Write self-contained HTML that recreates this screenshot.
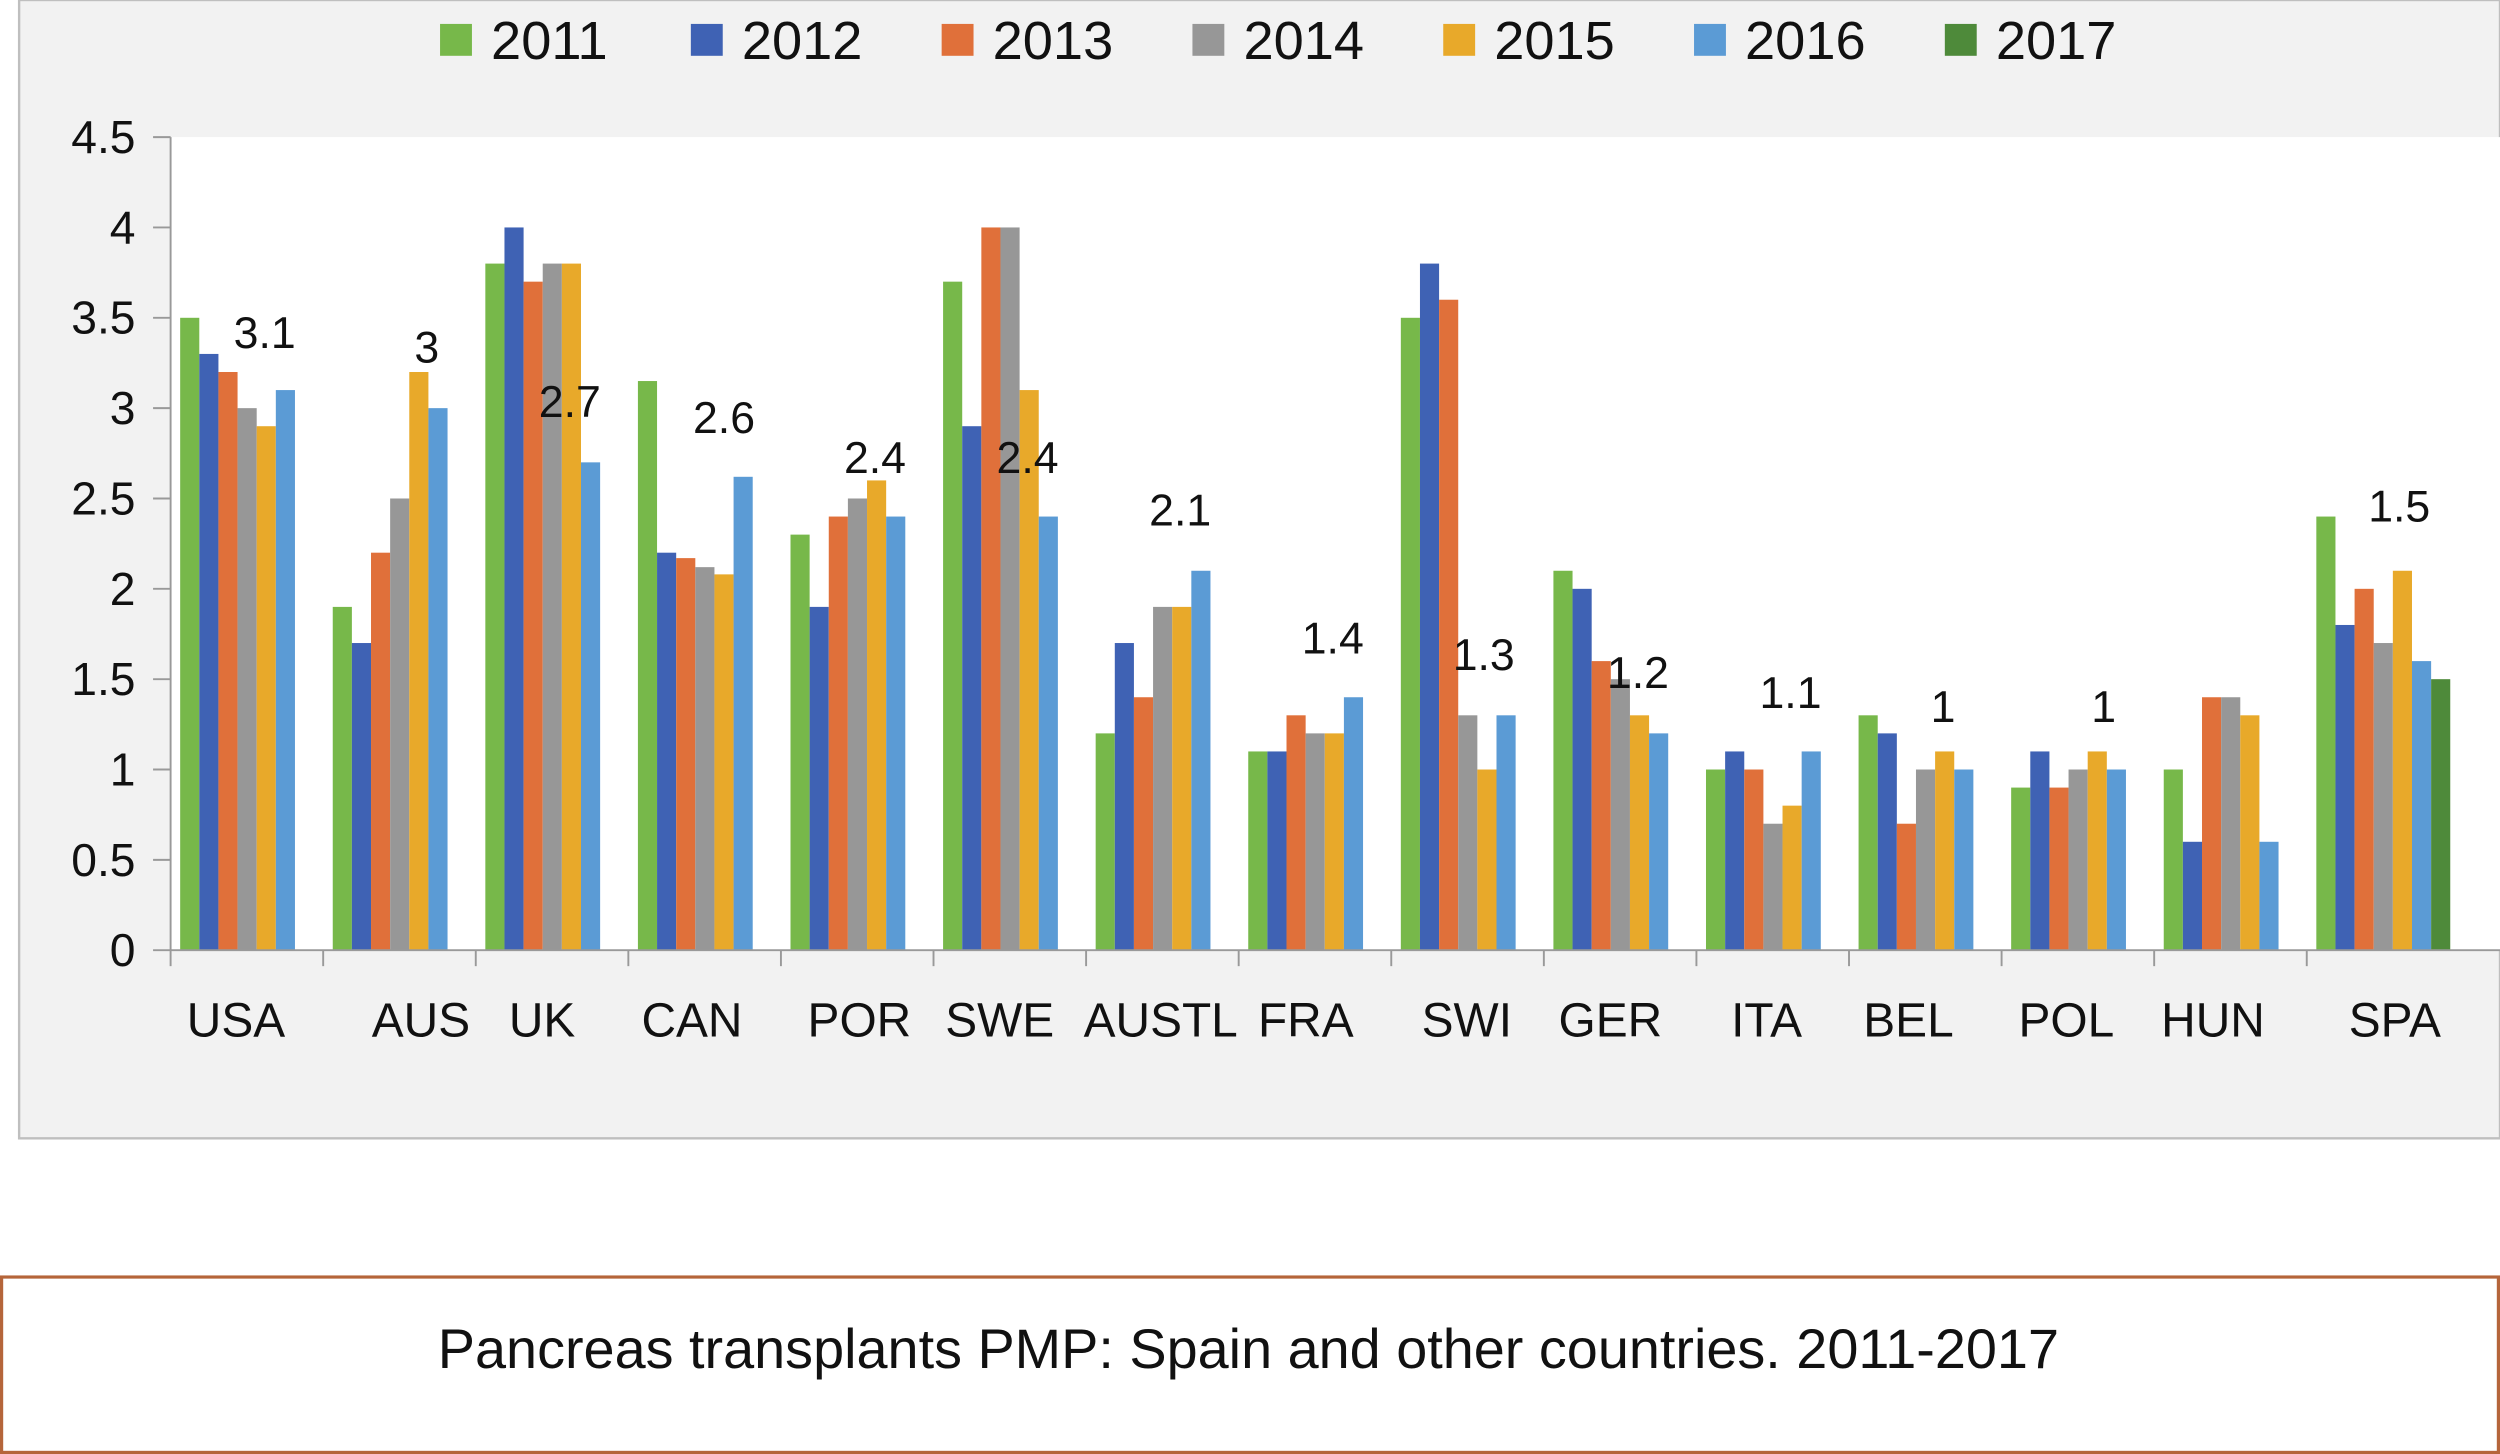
<!DOCTYPE html>
<html><head><meta charset="utf-8"><style>
html,body{margin:0;padding:0;background:#fff;}
svg{display:block;font-family:"Liberation Sans",Arial,sans-serif;}
</style></head><body>
<svg id="chart" width="2500" height="1454" viewBox="0 0 1568 912" preserveAspectRatio="none">
<rect x="12" y="0" width="1556" height="714" fill="#f2f2f2" stroke="#bfbfbf" stroke-width="1.5"/>
<rect x="107" y="86" width="1461" height="510" fill="#ffffff"/>
<g id="legend"></g>
<g id="yaxis"></g>
<g id="bars"></g>
<g id="xaxis"></g>
<g id="labels"></g>
<rect x="1" y="801" width="1566" height="110" fill="#fff" stroke="#b5653a" stroke-width="2"/>
<text x="783" y="858" font-size="35" text-anchor="middle" fill="#111">Pancreas transplants PMP: Spain and other countries. 2011-2017</text>
</svg>
<script>
const categories=["USA","AUS","UK","CAN","POR","SWE","AUSTL","FRA","SWI","GER","ITA","BEL","POL","HUN","SPA"];
const years=["2011","2012","2013","2014","2015","2016","2017"];
const colors=["#77b84a","#3f62b4","#e0703a","#979797","#e8a92a","#5b9bd5","#4e8a3a"];
const s2011=[3.5,1.9,3.8,3.15,2.3,3.7,1.2,1.1,3.5,2.1,1.0,1.3,0.9,1.0,2.4];
const s2012=[3.3,1.7,4.0,2.2,1.9,2.9,1.7,1.1,3.8,2.0,1.1,1.2,1.1,0.6,1.8];
const s2013=[3.2,2.2,3.7,2.17,2.4,4.0,1.4,1.3,3.6,1.6,1.0,0.7,0.9,1.4,2.0];
const s2014=[3.0,2.5,3.8,2.12,2.5,4.0,1.9,1.2,1.3,1.5,0.7,1.0,1.0,1.4,1.7];
const s2015=[2.9,3.2,3.8,2.08,2.6,3.1,1.9,1.2,1.0,1.3,0.8,1.1,1.1,1.3,2.1];
const s2016=[3.1,3.0,2.7,2.62,2.4,2.4,2.1,1.4,1.3,1.2,1.1,1.0,1.0,0.6,1.6];
const s2017=[null,null,null,null,null,null,null,null,null,null,null,null,null,null,1.5];
const labelText=["3.1","3","2.7","2.6","2.4","2.4","2.1","1.4","1.3","1.2","1.1","1","1",null,"1.5"];
const labelValue=[3.42,3.34,3.04,2.95,2.73,2.73,2.44,1.73,1.64,1.54,1.43,1.35,1.35,null,2.46];
const yTicks=[0,0.5,1,1.5,2,2.5,3,3.5,4,4.5];
const series=[s2011,s2012,s2013,s2014,s2015,s2016,s2017];
const NS="http://www.w3.org/2000/svg";
const x0=107,catW=95.7,barW=12,y0=596,yTop=86,yMax=4.5;
const labelOffsetX=[59,65,59,60,59,59,59,59,58,59,59,59,64,59,58];
const catLabelX=[148,264,340,434,539,627,728,819,920,1010,1108,1197,1296,1388,1502];
const y=v=>y0-(v/yMax)*(y0-yTop);
const cx=i=>x0+i*catW;
function mk(tag,attrs,parent){const e=document.createElementNS(NS,tag);for(const k in attrs)e.setAttribute(k,attrs[k]);parent.appendChild(e);return e;}
const gL=document.getElementById('legend'),gY=document.getElementById('yaxis'),gB=document.getElementById('bars'),gX=document.getElementById('xaxis'),gT=document.getElementById('labels');
years.forEach((yr,i)=>{
  const lx=276+i*157.3;
  const r=mk('rect',{x:lx,y:15,width:20,height:20,fill:colors[i]},gL);
  
  
  const t=mk('text',{x:lx+32,y:37,'font-size':34,fill:'#111'},gL);t.textContent=yr;
  
  
});
mk('line',{x1:x0,y1:yTop,x2:x0,y2:y0,stroke:'#999','stroke-width':1.2},gY);
yTicks.forEach(v=>{
  mk('line',{x1:96,y1:y(v),x2:x0,y2:y(v),stroke:'#999','stroke-width':1.2},gY);
  const t=mk('text',{x:85,y:y(v)+10,'font-size':29,'text-anchor':'end',fill:'#111'},gY);t.textContent=String(v);
  
  
});
mk('line',{x1:x0,y1:y0,x2:1568,y2:y0,stroke:'#999','stroke-width':1.2},gX);
categories.forEach((c,i)=>{
  mk('line',{x1:cx(i),y1:y0,x2:cx(i),y2:y0+10,stroke:'#999','stroke-width':1.2},gX);
  const t=mk('text',{x:catLabelX[i],y:650,'font-size':30,'text-anchor':'middle',fill:'#111'},gX);t.textContent=c;
  
  
  series.forEach((s,k)=>{
    const v=s[i]; if(v==null)return;
    const b=mk('rect',{x:cx(i)+6+k*barW,y:y(v),width:barW,height:y0-y(v),fill:colors[k]},gB);
    
    
  });
  if(labelText[i]!=null){
    const t2=mk('text',{x:cx(i)+labelOffsetX[i],y:y(labelValue[i])+10,'font-size':28,'text-anchor':'middle',fill:'#111'},gT);t2.textContent=labelText[i];
    
    
  }
});
</script>
</body></html>
